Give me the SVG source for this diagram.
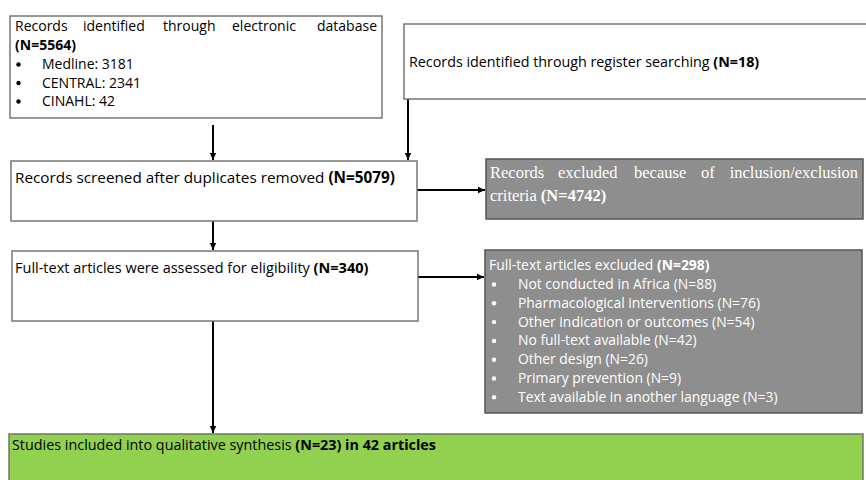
<svg xmlns="http://www.w3.org/2000/svg" width="866" height="480" viewBox="0 0 866 480">
<defs>
<marker id="ah" markerWidth="8" markerHeight="8" refX="7" refY="4" orient="auto" markerUnits="userSpaceOnUse">
<path d="M0,0.8 L7,4 L0,7.2 Z" fill="#000"/>
</marker>
<style>
.box{fill:#fff;stroke:#767676;stroke-width:1.5}
.gbox{fill:#8e8e8e;stroke:#555;stroke-width:1.5}
.green{fill:#92d050;stroke:#6b7a60;stroke-width:1.5}
.t{font-family:"Open Sans","Liberation Sans",sans-serif;fill:#000}
.s{font-family:"Liberation Serif","Times New Roman",serif;fill:#fff;font-size:16.5px}
.b{font-weight:bold}
.conn{stroke:#000;stroke-width:2;fill:none;marker-end:url(#ah)}
</style>
</defs>
<rect width="866" height="480" fill="#fff"/>

<g id="connectors">
<line class="conn" x1="213" y1="125" x2="213" y2="160"/>
<line class="conn" x1="408" y1="99" x2="408" y2="160"/>
<line class="conn" x1="417" y1="190" x2="485" y2="190"/>
<line class="conn" x1="213" y1="221" x2="213" y2="250"/>
<line class="conn" x1="418" y1="277" x2="484" y2="277"/>
<line class="conn" x1="213" y1="321" x2="213" y2="433"/>
</g>

<g id="db">
<rect class="box" x="10" y="16" width="372" height="102"/>
<g class="t" font-size="14">
<text x="15" y="30.5">Records</text>
<text x="83" y="30.5">identified</text>
<text x="163" y="30.5">through</text>
<text x="232" y="30.5">electronic</text>
<text x="377" y="30.5" text-anchor="end">database</text>
<text x="15" y="50" class="b">(N=5564)</text>
<text x="42" y="69">Medline: 3181</text>
<text x="42" y="87.5">CENTRAL: 2341</text>
<text x="42" y="106">CINAHL: 42</text>
</g>
<circle cx="18.5" cy="64.5" r="2.2" fill="#000"/>
<circle cx="18.5" cy="83" r="2.2" fill="#000"/>
<circle cx="18.5" cy="101.5" r="2.2" fill="#000"/>
</g>

<g id="register">
<rect class="box" x="404" y="24" width="470" height="75"/>
<text class="t" x="409" y="66.5" font-size="14.3">Records identified through register searching <tspan class="b">(N=18)</tspan></text>
</g>

<g id="screened">
<rect class="box" x="11" y="161" width="406" height="60"/>
<text class="t" x="15" y="183" font-size="15.3">Records screened after duplicates removed <tspan class="b">(N=5079)</tspan></text>
</g>

<g id="excluded1">
<rect class="gbox" x="486" y="159" width="377" height="60"/>
<text class="s" x="490" y="178">Records</text>
<text class="s" x="558" y="178">excluded</text>
<text class="s" x="634" y="178">because</text>
<text class="s" x="701" y="178">of</text>
<text class="s" x="858" y="178" text-anchor="end">inclusion/exclusion</text>
<text class="s" x="490" y="201">criteria <tspan class="b">(N=4742)</tspan></text>
</g>

<g id="fulltext">
<rect class="box" x="12" y="251" width="406" height="70"/>
<text class="t" x="15" y="273" font-size="14.5">Full-text articles were assessed for eligibility <tspan class="b">(N=340)</tspan></text>
</g>

<g id="excluded2">
<rect class="gbox" x="485" y="250" width="377" height="163"/>
<g class="t" font-size="13.9" fill="#fff">
<text x="489" y="270" fill="#fff">Full-text articles excluded <tspan class="b">(N=298)</tspan></text>
<text x="518" y="289" fill="#fff">Not conducted in Africa (N=88)</text>
<text x="518" y="307.8" fill="#fff">Pharmacological interventions (N=76)</text>
<text x="518" y="326.6" fill="#fff">Other indication or outcomes (N=54)</text>
<text x="518" y="345.4" fill="#fff">No full-text available (N=42)</text>
<text x="518" y="364.2" fill="#fff">Other design (N=26)</text>
<text x="518" y="383" fill="#fff">Primary prevention (N=9)</text>
<text x="518" y="401.8" fill="#fff">Text available in another language (N=3)</text>
</g>
<g fill="#fff">
<circle cx="494" cy="284.5" r="2.2"/>
<circle cx="494" cy="303.3" r="2.2"/>
<circle cx="494" cy="322.1" r="2.2"/>
<circle cx="494" cy="340.9" r="2.2"/>
<circle cx="494" cy="359.7" r="2.2"/>
<circle cx="494" cy="378.5" r="2.2"/>
<circle cx="494" cy="397.3" r="2.2"/>
</g>
</g>

<g id="included">
<rect class="green" x="9" y="434" width="854" height="60"/>
<text class="t" x="12" y="450" font-size="14.5" textLength="424" lengthAdjust="spacingAndGlyphs">Studies included into qualitative synthesis <tspan class="b">(N=23) in 42 articles</tspan></text>
</g>
</svg>
